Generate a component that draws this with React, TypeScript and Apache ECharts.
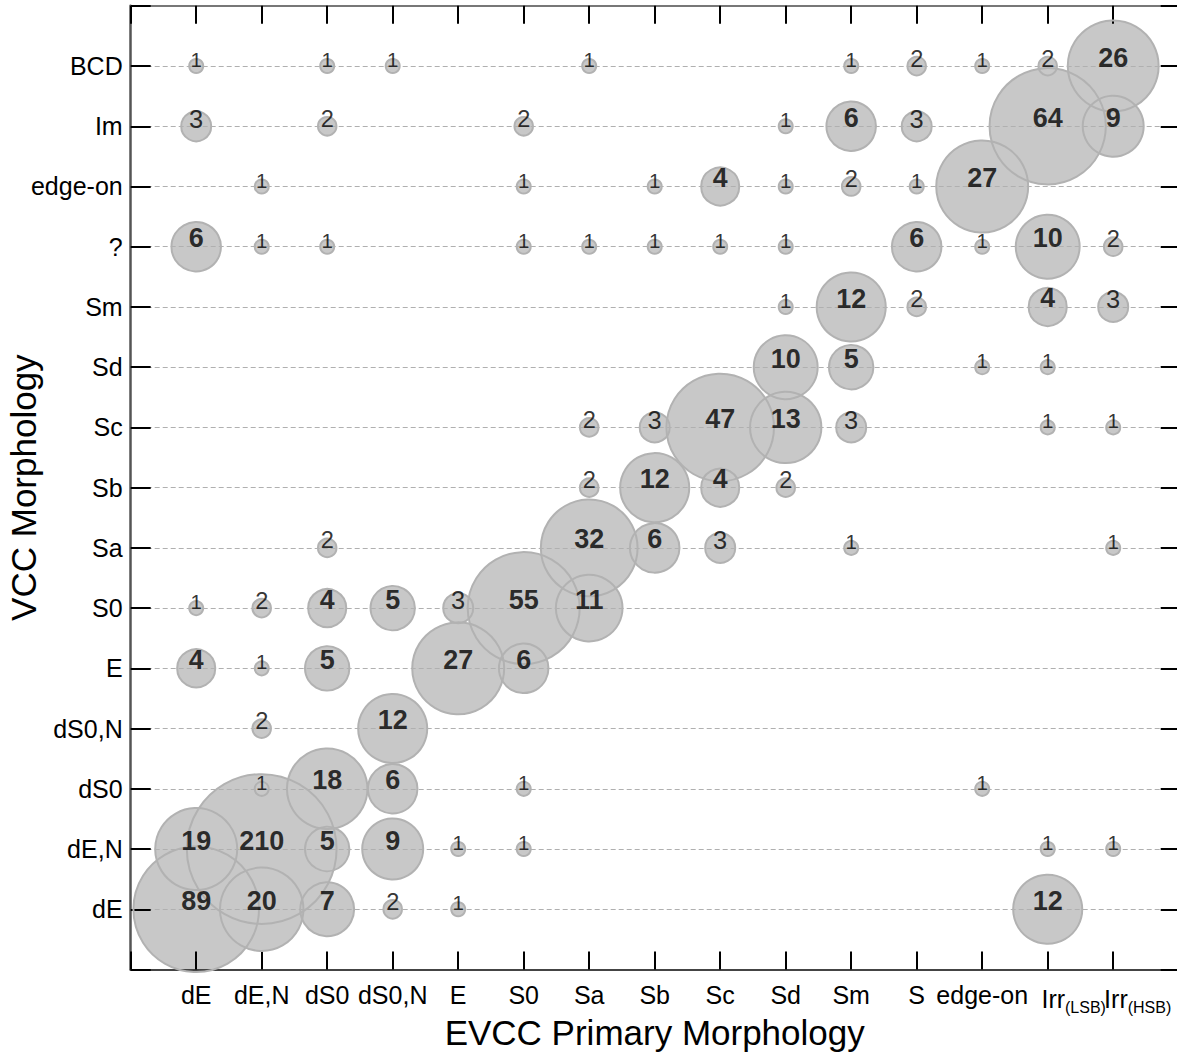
import React, { useEffect, useRef } from "react";
import * as echarts from "echarts";

// EVCC primary morphology (x) categories
const xCategories = ["dE", "dE,N", "dS0", "dS0,N", "E", "S0", "Sa", "Sb", "Sc", "Sd", "Sm", "S", "edge-on", "Irr(LSB)", "Irr(HSB)"];
// VCC morphology (y) categories, bottom to top
const yCategories = ["dE", "dE,N", "dS0", "dS0,N", "E", "S0", "Sa", "Sb", "Sc", "Sd", "Sm", "?", "edge-on", "Im", "BCD"];

// counts per VCC row, one entry per EVCC column (0 = no galaxies)
const row_dE    = [89, 20, 7, 2, 1, 0, 0, 0, 0, 0, 0, 0, 0, 12, 0];
const row_dEN   = [19, 210, 5, 9, 1, 1, 0, 0, 0, 0, 0, 0, 0, 1, 1];
const row_dS0   = [0, 1, 18, 6, 0, 1, 0, 0, 0, 0, 0, 0, 1, 0, 0];
const row_dS0N  = [0, 2, 0, 12, 0, 0, 0, 0, 0, 0, 0, 0, 0, 0, 0];
const row_E     = [4, 1, 5, 0, 27, 6, 0, 0, 0, 0, 0, 0, 0, 0, 0];
const row_S0    = [1, 2, 4, 5, 3, 55, 11, 0, 0, 0, 0, 0, 0, 0, 0];
const row_Sa    = [0, 0, 2, 0, 0, 0, 32, 6, 3, 0, 1, 0, 0, 0, 1];
const row_Sb    = [0, 0, 0, 0, 0, 0, 2, 12, 4, 2, 0, 0, 0, 0, 0];
const row_Sc    = [0, 0, 0, 0, 0, 0, 2, 3, 47, 13, 3, 0, 0, 1, 1];
const row_Sd    = [0, 0, 0, 0, 0, 0, 0, 0, 0, 10, 5, 0, 1, 1, 0];
const row_Sm    = [0, 0, 0, 0, 0, 0, 0, 0, 0, 1, 12, 2, 0, 4, 3];
const row_Q     = [6, 1, 1, 0, 0, 1, 1, 1, 1, 1, 0, 6, 1, 10, 2];
const row_edge  = [0, 1, 0, 0, 0, 1, 0, 1, 4, 1, 2, 1, 27, 0, 0];
const row_Im    = [3, 0, 2, 0, 0, 2, 0, 0, 0, 1, 6, 3, 0, 64, 9];
const row_BCD   = [1, 0, 1, 1, 0, 0, 1, 0, 0, 0, 1, 2, 1, 2, 26];

const rows = [row_dE, row_dEN, row_dS0, row_dS0N, row_E, row_S0, row_Sa, row_Sb, row_Sc, row_Sd, row_Sm, row_Q, row_edge, row_Im, row_BCD];

const FONT = '"Liberation Sans", Arial, Helvetica, sans-serif';

function radius(n: number) {
  return Math.max(7, 14.1 * Math.log(n) - 0.5);
}
function labelSize(n: number) {
  return Math.min(27, 20.5 + 4.5 * Math.log(n));
}

export default function App() {
  const ref = useRef<HTMLDivElement>(null);
  useEffect(() => {
    if (!ref.current) return;
    const chart = echarts.init(ref.current, undefined, { renderer: "svg" });

    const points: any[] = [];
    rows.forEach((row, yi) => {
      row.forEach((n, xi) => {
        if (n > 0) points.push([xi + 1, yi + 1, n]);
      });
    });

    const labelData = points.map((p) => {
      const fs = labelSize(p[2]);
      return {
        value: p,
        label: {
          show: true,
          position: "top",
          distance: -0.15 * fs - 1.5,
          formatter: String(p[2]),
          fontSize: fs,
          fontWeight: p[2] >= 4 ? "bold" : "normal",
        },
      };
    });

    const xLabel = (v: number) => {
      const i = Math.round(v) - 1;
      if (i < 0 || i >= xCategories.length) return "";
      if (i === 13) return "{iL|Irr}{s|(LSB)}";
      if (i === 14) return "{iH|Irr}{s|(HSB)}";
      return xCategories[i];
    };
    const yLabel = (v: number) => {
      const i = Math.round(v) - 1;
      if (i < 0 || i >= yCategories.length) return "";
      return yCategories[i];
    };

    const grid = {
      left: 130.7,
      right: 1186 - 1178.7,
      top: 5.8,
      bottom: 1055 - 969.5,
      containLabel: false,
      outerBoundsMode: "none",
    };

    const tickStyle = { color: "#000", width: 2 };

    chart.setOption({
      animation: false,
      backgroundColor: "#ffffff",
      textStyle: { fontFamily: FONT },
      grid,
      xAxis: [
        {
          type: "value",
          min: 0,
          max: 16,
          interval: 1,
          z: 3,
          position: "bottom",
          name: "EVCC Primary Morphology",
          nameLocation: "middle",
          nameGap: 45,
          nameMoveOverlap: false,
          nameTextStyle: { fontSize: 35, color: "#000", fontFamily: FONT },
          axisLine: { show: true, onZero: false, lineStyle: { color: "#444", width: 2 } },
          axisTick: { show: true, inside: true, length: 18, lineStyle: tickStyle },
          axisLabel: {
            formatter: xLabel,
            fontSize: 25,
            color: "#000",
            margin: 13,
            fontFamily: FONT,
            hideOverlap: false,
            rich: {
              iL: { fontSize: 25, color: "#000", padding: [0, 0, 0, 52], fontFamily: FONT },
              iH: { fontSize: 25, color: "#000", padding: [0, 0, 0, 49], fontFamily: FONT },
              s: { fontSize: 16, color: "#000", padding: [17, 0, 0, 0], fontFamily: FONT },
            },
          },
          splitLine: { show: false },
        },
        {
          type: "value",
          min: 0,
          max: 16,
          interval: 1,
          z: 3,
          position: "top",
          axisLine: { show: true, onZero: false, lineStyle: { color: "#777", width: 2 } },
          axisTick: { show: true, inside: true, length: 18, lineStyle: tickStyle },
          axisLabel: { show: false },
          splitLine: { show: false },
        },
      ],
      yAxis: [
        {
          type: "value",
          min: 0,
          max: 16,
          interval: 1,
          z: 3,
          position: "left",
          name: "VCC Morphology",
          nameLocation: "middle",
          nameGap: 90,
          nameMoveOverlap: false,
          nameTextStyle: { fontSize: 35, color: "#000", fontFamily: FONT },
          axisLine: { show: true, onZero: false, lineStyle: { color: "#555", width: 2.5 } },
          axisTick: { show: true, inside: true, length: 20, lineStyle: tickStyle },
          axisLabel: { formatter: yLabel, fontSize: 25, color: "#000", margin: 8, fontFamily: FONT },
          splitLine: { show: true, lineStyle: { color: "#b0b0b0", width: 1, type: [5, 3] } },
        },
        {
          type: "value",
          min: 0,
          max: 16,
          interval: 1,
          z: 3,
          position: "right",
          axisLine: { show: true, onZero: false, lineStyle: { color: "#777", width: 2 } },
          axisTick: { show: true, inside: true, length: 18, lineStyle: tickStyle },
          axisLabel: { show: false },
          splitLine: { show: false },
        },
      ],
      series: [
        {
          type: "scatter",
          name: "fill",
          z: 2,
          xAxisIndex: 0,
          yAxisIndex: 0,
          data: points,
          symbol: "circle",
          symbolSize: (v: number[]) => 2 * radius(v[2]),
          itemStyle: { color: "#c8c8c8", opacity: 1 },
          emphasis: { disabled: true },
          silent: true,
        },
        {
          type: "scatter",
          name: "outline",
          z: 4,
          xAxisIndex: 0,
          yAxisIndex: 0,
          data: points,
          symbol: "circle",
          symbolSize: (v: number[]) => 2 * radius(v[2]),
          itemStyle: { color: "rgba(0,0,0,0)", borderColor: "#b2b2b2", borderWidth: 2, opacity: 1 },
          emphasis: { disabled: true },
          silent: true,
        },
        {
          type: "scatter",
          name: "labels",
          z: 5,
          xAxisIndex: 0,
          yAxisIndex: 0,
          data: labelData,
          symbol: "circle",
          symbolSize: 1,
          itemStyle: { color: "rgba(0,0,0,0)" },
          label: { show: true, color: "#000", fontFamily: FONT },
          labelLayout: { hideOverlap: false },
          emphasis: { disabled: true },
          silent: true,
        },
      ],
    });
    return () => chart.dispose();
  }, []);

  return (
    <div
      ref={ref}
      style={{ position: "absolute", left: 0, top: 0, width: 1186, height: 1055 }}
    />
  );
}
